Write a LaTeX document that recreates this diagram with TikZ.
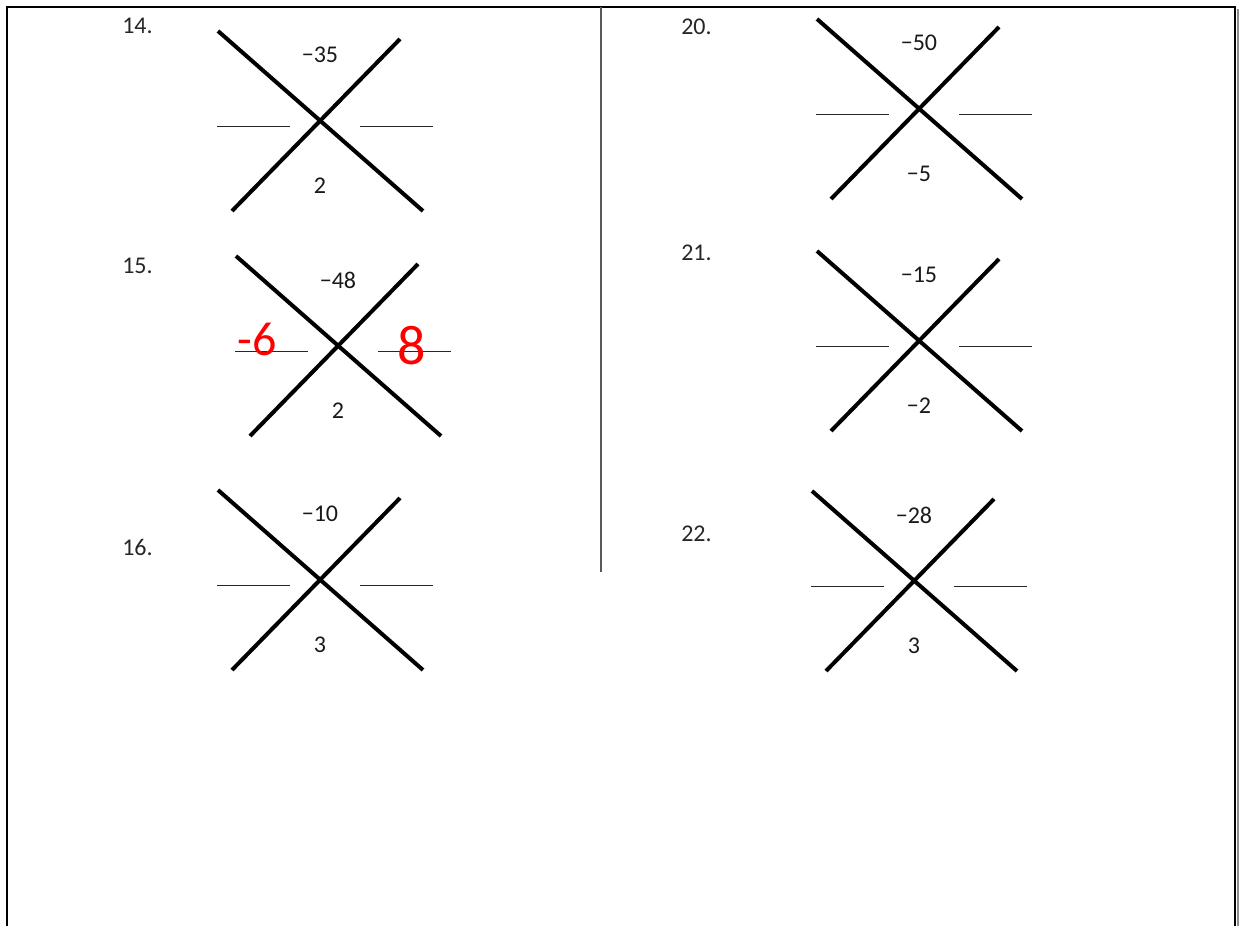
\documentclass[tikz,border=0pt]{standalone}
\usepackage{fontspec}
\setmainfont{Carlito}
\usetikzlibrary{calc}
\begin{document}
\begin{tikzpicture}[x=1pt,y=-1pt,
  xline/.style={line width=4pt,black},
  blank/.style={line width=1pt,black!85},
  lbl/.style={inner sep=0pt,font=\fontsize{24}{28}\selectfont,text=black!90},
  numlbl/.style={inner sep=0pt,font=\fontsize{24}{28}\selectfont,text=black!85},
  hand/.style={inner sep=0pt,text=red,font=\fontsize{48}{52}\selectfont}]
\useasboundingbox (0,0) rectangle (1239,926);
% frame
\draw[line width=2.2pt] (7,926) -- (7,7) -- (1235,7) -- (1235,926);
\draw[line width=2pt,black!45] (1237.5,9) -- (1237.5,926);
\draw[line width=1.5pt,black!65] (601,7) -- (601,572);
\newcommand\xcross[5]{%
  \coordinate (#1) at (#2,#3);
  \draw[xline] ($(#1)+(-102,-90)$) -- ($(#1)+(103,90)$);
  \draw[xline] ($(#1)+(-88,90)$) -- ($(#1)+(80,-82)$);
  \draw[blank] ($(#1)+(-103,5)$) -- ($(#1)+(-30,5)$);
  \draw[blank] ($(#1)+(40,5)$) -- ($(#1)+(113,5)$);
  \node[lbl] (#1top) at ($(#1)+(0,-66)$) {#4};
  \node[lbl] (#1bot) at ($(#1)+(0,65)$) {#5};
}
\xcross{c14}{320}{121}{−35}{2}
\xcross{c15}{338}{346}{−48}{2}
\xcross{c16}{320}{580}{−10}{3}
\xcross{c20}{919}{109}{−50}{−5}
\xcross{c21}{919}{341}{−15}{−2}
\xcross{c22}{914}{581}{−28}{3}
\node[numlbl] (n14) at (137.5,26) {14.};
\node[numlbl] (n15) at (137.5,266) {15.};
\node[numlbl] (n16) at (137.5,547) {16.};
\node[numlbl] (n20) at (696.5,27) {20.};
\node[numlbl] (n21) at (696.5,253) {21.};
\node[numlbl] (n22) at (696.5,534) {22.};
\node[hand] (h1) at (257,339) {-6};
\node[hand,font=\fontsize{56}{60}\selectfont] (h2) at (412,346) {8};
\end{tikzpicture}
\end{document}
